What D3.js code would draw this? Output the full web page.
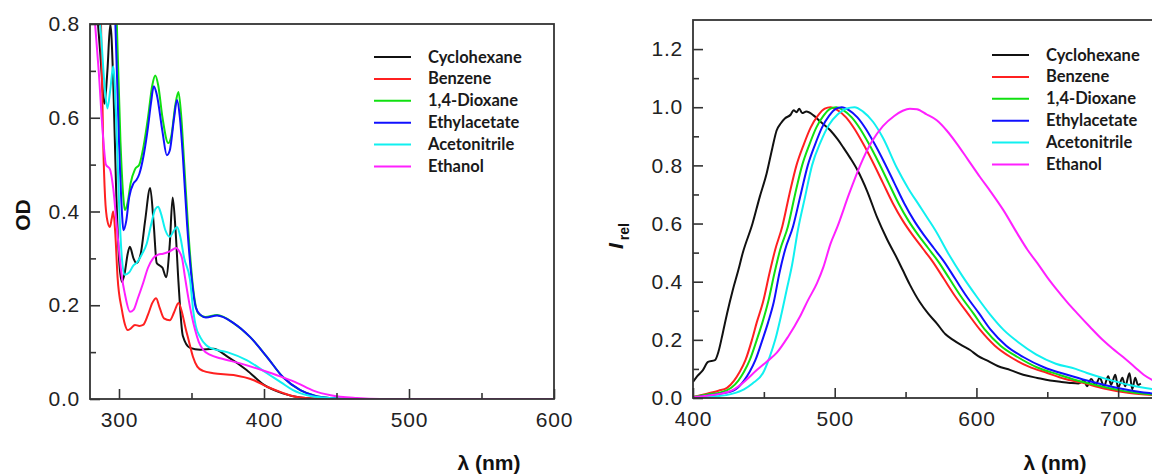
<!DOCTYPE html>
<html>
<meta charset="utf-8">
<head>
  <title>Absorption and emission spectra</title>
</head>

<style>
body {
  margin: 0;
  background: #fff;
}
.tick text {
  font-family: "Liberation Sans", Arial, sans-serif;
  font-size: 21px;
  letter-spacing: 0.8px;
  fill: #222;
}
.tick line, .domain {
  stroke: #333;
  stroke-width: 1.6;
}
.frame {
  fill: none;
  stroke: #333;
  stroke-width: 1.8;
}
.title {
  font-family: "Liberation Sans", Arial, sans-serif;
  font-weight: bold;
  font-size: 21px;
  fill: #111;
}
.legend text {
  font-family: Lato, "Open Sans", sans-serif;
  font-weight: 700;
  font-size: 16.5px;
  fill: #1a1a1a;
}
.curve {
  fill: none;
  stroke-width: 2;
  stroke-linejoin: round;
}
</style>

<body>
  <svg width="1152" height="476"></svg>

  <script src="https://cdnjs.cloudflare.com/ajax/libs/d3/7.8.5/d3.min.js"></script>

  <script>
var solvents = ['Cyclohexane', 'Benzene', '1,4-Dioxane', 'Ethylacetate', 'Acetonitrile', 'Ethanol']
var colors = ['#111111', '#ff2020', '#10e010', '#1010ff', '#10f0f0', '#ff20ff']

// absorption spectra (lambda nm, OD)
var absCyclohexane = [[280,1.0],[284,0.86],[287,0.74],[290,0.63],[292,0.7],[294,0.8],[296,0.68],[298,0.45],[300,0.3],[302,0.25],[304,0.27],[306,0.31],[307.5,0.325],[310,0.3],[312,0.29],[315,0.31],[318,0.38],[321.5,0.45],[324,0.37],[326,0.29],[328,0.285],[330,0.28],[332.5,0.26],[335,0.33],[337,0.43],[339,0.36],[341,0.25],[344,0.135],[349,0.109],[356,0.105],[365,0.107],[375,0.09],[388,0.062],[400,0.03],[413,0.012],[425,0.003],[440,0],[600,0]]
var absBenzene = [[280,1.2],[284,1.0],[287.6,0.8],[289,0.56],[290.4,0.43],[292,0.38],[293.7,0.367],[295,0.385],[296,0.4],[297.5,0.35],[299,0.26],[302,0.19],[304,0.16],[306,0.147],[308,0.15],[311,0.158],[314,0.156],[316.6,0.158],[320,0.18],[323,0.205],[325.6,0.215],[328,0.195],[331,0.172],[335,0.168],[338,0.185],[341,0.205],[343,0.19],[346,0.15],[348,0.126],[351,0.09],[354,0.069],[358,0.06],[365,0.055],[379,0.051],[393,0.04],[403,0.025],[413,0.013],[425,0.003],[440,0],[600,0]]
var absDioxane = [[280,1.3],[294,1.1],[296,0.95],[298.5,0.8],[301,0.55],[303,0.43],[304,0.403],[306,0.42],[308,0.46],[311,0.49],[314,0.5],[317,0.54],[320,0.6],[323,0.67],[325,0.69],[327,0.67],[330,0.6],[334,0.546],[336,0.56],[339,0.63],[341,0.655],[343,0.6],[345,0.5],[348,0.35],[351,0.24],[354.6,0.183],[359.5,0.175],[367.6,0.179],[379,0.162],[390.5,0.132],[402,0.09],[413,0.047],[425,0.019],[435,0.007],[446,0.002],[460,0],[600,0]]
var absEthylacetate = [[280,1.3],[293,1.1],[295,0.95],[297.5,0.8],[300,0.55],[302,0.4],[303,0.36],[305,0.38],[307,0.43],[310,0.46],[312,0.467],[314,0.48],[317,0.52],[320,0.58],[322,0.63],[324,0.667],[326,0.65],[330,0.57],[333,0.52],[335,0.53],[338,0.6],[340,0.638],[342,0.6],[344,0.52],[347,0.37],[350,0.26],[353,0.195],[356,0.18],[360,0.174],[367.6,0.178],[379,0.162],[390.5,0.132],[402,0.09],[413,0.047],[425,0.019],[435,0.007],[446,0.002],[460,0],[600,0]]
var absAcetonitrile = [[280,1.1],[284,0.92],[288,0.76],[290,0.67],[292,0.62],[294,0.66],[296,0.71],[298,0.6],[300,0.42],[302,0.3],[304,0.265],[307,0.27],[310,0.285],[312,0.29],[316,0.31],[319,0.33],[322,0.37],[325,0.405],[327,0.41],[329,0.395],[332,0.36],[335,0.346],[338,0.36],[340,0.367],[342,0.35],[345,0.3],[349,0.254],[351.4,0.183],[353,0.155],[356,0.132],[360,0.115],[363,0.109],[374.6,0.1],[388,0.083],[402,0.055],[412,0.035],[420,0.019],[430,0.008],[445,0.002],[460,0],[600,0]]
var absEthanol = [[280,0.95],[283,0.82],[286,0.7],[289,0.56],[291,0.5],[293.8,0.49],[296,0.45],[299,0.35],[302,0.26],[304,0.225],[307.6,0.186],[310,0.19],[313,0.215],[316.6,0.247],[320,0.28],[323.5,0.3],[327,0.308],[330.4,0.31],[335,0.315],[339.4,0.322],[341.5,0.315],[343.5,0.3],[345.5,0.26],[347.7,0.218],[350,0.18],[352.5,0.147],[355,0.122],[358,0.105],[363,0.094],[369.8,0.087],[383.6,0.076],[402,0.058],[414,0.045],[423,0.034],[434,0.018],[446,0.008],[464,0.002],[480,0],[600,0]]

// emission spectra (lambda nm, I rel)
var emCyclohexane = [[400,0.055],[403,0.075],[407,0.096],[410.6,0.124],[415.5,0.13],[418,0.16],[421,0.223],[424,0.29],[428,0.37],[432,0.44],[435,0.497],[442,0.6],[447,0.69],[452,0.773],[456,0.86],[459,0.92],[462,0.945],[465,0.962],[469,0.975],[471,0.99],[473,0.983],[475,0.995],[477,0.98],[480,0.985],[485,0.972],[490,0.95],[497,0.92],[502,0.89],[506,0.862],[511,0.825],[516,0.784],[523,0.71],[530,0.62],[537,0.545],[544,0.48],[548,0.44],[553,0.39],[560,0.33],[566,0.29],[572,0.257],[578,0.22],[583.5,0.2],[590,0.18],[595.5,0.165],[601,0.145],[607,0.13],[615,0.11],[624,0.096],[633,0.08],[643,0.069],[652,0.06],[660,0.055],[666,0.052],[672,0.05],[676,0.06],[678,0.04],[681,0.065],[684,0.045],[687,0.07],[690,0.04],[693,0.075],[695,0.045],[698,0.08],[700,0.035],[703,0.07],[705,0.04],[708,0.085],[710,0.03],[712,0.07],[714,0.045],[716,0.05]]
var emBenzene = [[400,0.003],[410,0.015],[418,0.025],[424,0.035],[429,0.06],[433,0.09],[437,0.13],[441.6,0.2],[445,0.26],[449.4,0.33],[454,0.43],[458,0.51],[463,0.59],[468,0.7],[473,0.8],[478,0.87],[483,0.93],[488,0.97],[493,0.995],[497,1.0],[502,0.99],[508,0.965],[514,0.925],[520,0.875],[527,0.81],[534,0.74],[541,0.67],[548,0.61],[555,0.56],[562,0.515],[569,0.47],[577,0.41],[585,0.35],[594,0.29],[602.5,0.235],[613,0.18],[624,0.141],[637,0.108],[650,0.086],[662,0.066],[675,0.052],[690,0.033],[708,0.017],[725,0.01]]
var emDioxane = [[400,0.003],[410,0.012],[420,0.02],[427,0.035],[432,0.06],[436,0.09],[440,0.13],[445,0.2],[449,0.26],[453,0.33],[457.5,0.43],[461.5,0.51],[467,0.59],[472,0.7],[477,0.8],[482,0.87],[487,0.93],[492,0.97],[497,0.995],[501,1.0],[506,0.99],[512,0.965],[518,0.925],[524,0.875],[531,0.81],[538,0.74],[545,0.67],[552,0.61],[559,0.56],[566,0.515],[573,0.47],[581,0.41],[589,0.35],[598,0.29],[606,0.235],[617,0.18],[629,0.141],[643,0.105],[657,0.082],[670,0.062],[684,0.045],[700,0.028],[715,0.016],[730,0.01]]
var emEthylacetate = [[400,0.002],[410,0.008],[420,0.015],[430,0.03],[436,0.06],[440,0.09],[444,0.13],[449,0.2],[453,0.26],[457,0.33],[461,0.43],[465,0.51],[470.6,0.59],[476,0.7],[481,0.8],[486,0.87],[491,0.93],[496,0.97],[501,0.995],[505,1.0],[510,0.99],[516,0.965],[522,0.925],[528,0.875],[535,0.81],[542,0.74],[549,0.67],[556,0.61],[563,0.56],[570,0.515],[577,0.47],[585,0.41],[593,0.35],[602,0.29],[610,0.235],[621,0.18],[633,0.141],[648,0.105],[664,0.08],[678,0.06],[692,0.043],[708,0.027],[722,0.017],[735,0.01]]
var emAcetonitrile = [[400,0.001],[415,0.005],[428,0.015],[436,0.03],[442,0.05],[449.4,0.086],[454,0.14],[458,0.2],[462,0.28],[466,0.37],[470,0.46],[474,0.577],[479,0.69],[484,0.8],[490,0.88],[496,0.94],[502,0.975],[508,0.995],[514,1.0],[520,0.985],[527,0.95],[534,0.895],[544,0.79],[552,0.72],[560,0.66],[566,0.615],[571,0.577],[581,0.49],[590,0.42],[600,0.35],[610,0.285],[619,0.235],[630,0.19],[642,0.15],[656,0.118],[670,0.1],[678,0.086],[692,0.065],[708,0.045],[725,0.03],[740,0.02]]
var emEthanol = [[400,0.003],[410,0.008],[420,0.015],[428,0.027],[436,0.055],[445,0.096],[452,0.125],[459,0.155],[467,0.21],[475.5,0.28],[481,0.335],[487.5,0.395],[492,0.45],[497,0.53],[502,0.59],[510,0.7],[518,0.8],[526,0.88],[534,0.935],[542,0.97],[548,0.988],[553,0.995],[558,0.993],[565,0.975],[572,0.955],[579,0.92],[586,0.876],[594,0.82],[602.5,0.76],[610,0.71],[619,0.646],[628.7,0.567],[636,0.51],[643,0.464],[650,0.415],[657,0.371],[664,0.33],[671,0.292],[680,0.245],[689,0.2],[696,0.17],[703.5,0.141],[712,0.105],[718,0.08],[724,0.062],[735,0.04]]

var absSeries = [absCyclohexane, absBenzene, absDioxane, absEthylacetate, absAcetonitrile, absEthanol]
var emSeries = [emCyclohexane, emBenzene, emDioxane, emEthylacetate, emAcetonitrile, emEthanol]

// tick values
var absXMajor = [300, 400, 500, 600], absXMinor = [350, 450, 550]
var absYMajor = [0, 0.2, 0.4, 0.6, 0.8], absYMinor = [0.1, 0.3, 0.5, 0.7]
var emXMajor = [400, 500, 600, 700], emXMinor = [450, 550, 650]
var emYMajor = [0, 0.2, 0.4, 0.6, 0.8, 1.0, 1.2], emYMinor = [0.1, 0.3, 0.5, 0.7, 0.9, 1.1]

var svg = d3.select('svg')

function panel(opts) {
  var x = d3.scaleLinear().domain(opts.xDomain).range([opts.left, opts.right])
  var y = d3.scaleLinear().domain(opts.yDomain).range([opts.bottom, opts.top])
  var g = svg.append('g')

  g.append('clipPath').attr('id', opts.id)
    .append('rect')
    .attr('x', opts.left).attr('y', opts.top)
    .attr('width', opts.right - opts.left).attr('height', opts.bottom - opts.top)

  var line = d3.line()
    .x(function(d) { return x(d[0]) })
    .y(function(d) { return y(d[1]) })
    .curve(d3.curveMonotoneX)

  g.append('g').attr('clip-path', 'url(#' + opts.id + ')')
    .selectAll('path')
    .data(opts.series)
    .enter()
    .append('path')
    .attr('class', 'curve')
    .attr('stroke', function(d, i) { return colors[i] })
    .attr('stroke-width', function(d, i) { return opts.widths ? opts.widths[i] : 2 })
    .attr('d', line)

  // minor ticks
  g.append('g').attr('transform', 'translate(0,' + opts.bottom + ')')
    .call(d3.axisBottom(x).tickValues(opts.xMinor).tickSize(-6).tickSizeOuter(0).tickFormat(''))
  g.append('g').attr('transform', 'translate(' + opts.left + ',0)')
    .call(d3.axisLeft(y).tickValues(opts.yMinor).tickSize(-6).tickSizeOuter(0).tickFormat(''))
  // major ticks
  var xa = g.append('g').attr('transform', 'translate(0,' + opts.bottom + ')')
    .call(d3.axisBottom(x).tickValues(opts.xMajor).tickSize(-10).tickSizeOuter(0).tickPadding(21).tickFormat(d3.format('d')))
  var ya = g.append('g').attr('transform', 'translate(' + opts.left + ',0)')
    .call(d3.axisLeft(y).tickValues(opts.yMajor).tickSize(-10).tickSizeOuter(0).tickPadding(10).tickFormat(d3.format('.1f')))
  xa.selectAll('text').attr('dy', '0.35em')
  g.selectAll('.domain').remove()

  g.append('rect').attr('class', 'frame')
    .attr('x', opts.left).attr('y', opts.top)
    .attr('width', opts.frameRight - opts.left).attr('height', opts.bottom - opts.top)

  // legend
  var lg = g.append('g').attr('class', 'legend')
  solvents.forEach(function(s, i) {
    var ly = opts.legendY + i * 21.9
    lg.append('line')
      .attr('x1', opts.legendX).attr('x2', opts.legendX + 37)
      .attr('y1', ly).attr('y2', ly)
      .attr('stroke', colors[i]).attr('stroke-width', 2)
    lg.append('text')
      .attr('x', opts.legendX + 54).attr('y', ly + 5.5)
      .text(s)
  })

  g.append('text').attr('class', 'title')
    .attr('x', opts.xTitleX).attr('y', 470)
    .attr('text-anchor', 'middle')
    .text('\u03bb (nm)')
  return g
}

panel({
  id: 'clipAbs', series: absSeries,
  xDomain: [280, 600], yDomain: [0, 0.8],
  left: 90, right: 554, frameRight: 554, top: 24, bottom: 399,
  xMajor: absXMajor, xMinor: absXMinor, yMajor: absYMajor, yMinor: absYMinor,
  legendX: 374, legendY: 57, xTitleX: 489
})

panel({
  id: 'clipEm', series: emSeries,
  xDomain: [400, 750], yDomain: [0, 1.3],
  left: 693, right: 1189, frameRight: 1189, top: 20, bottom: 398,
  xMajor: emXMajor, xMinor: emXMinor, yMajor: emYMajor, yMinor: emYMinor,
  widths: [2, 2, 2, 2, 2, 2.6],
  legendX: 992, legendY: 55, xTitleX: 1055
})

// y titles
svg.append('text').attr('class', 'title')
  .attr('font-size', '22px')
  .attr('transform', 'translate(30,215) rotate(-90)')
  .attr('text-anchor', 'middle')
  .text('OD')

var yt = svg.append('text').attr('class', 'title')
  .attr('transform', 'translate(623,249) rotate(-90)')
yt.append('tspan').attr('font-style', 'italic').attr('font-size', '21px').text('I')
yt.append('tspan').attr('font-size', '14px').attr('dx', 3).attr('dy', 6).text('rel')
  </script>
</body>
</html>
